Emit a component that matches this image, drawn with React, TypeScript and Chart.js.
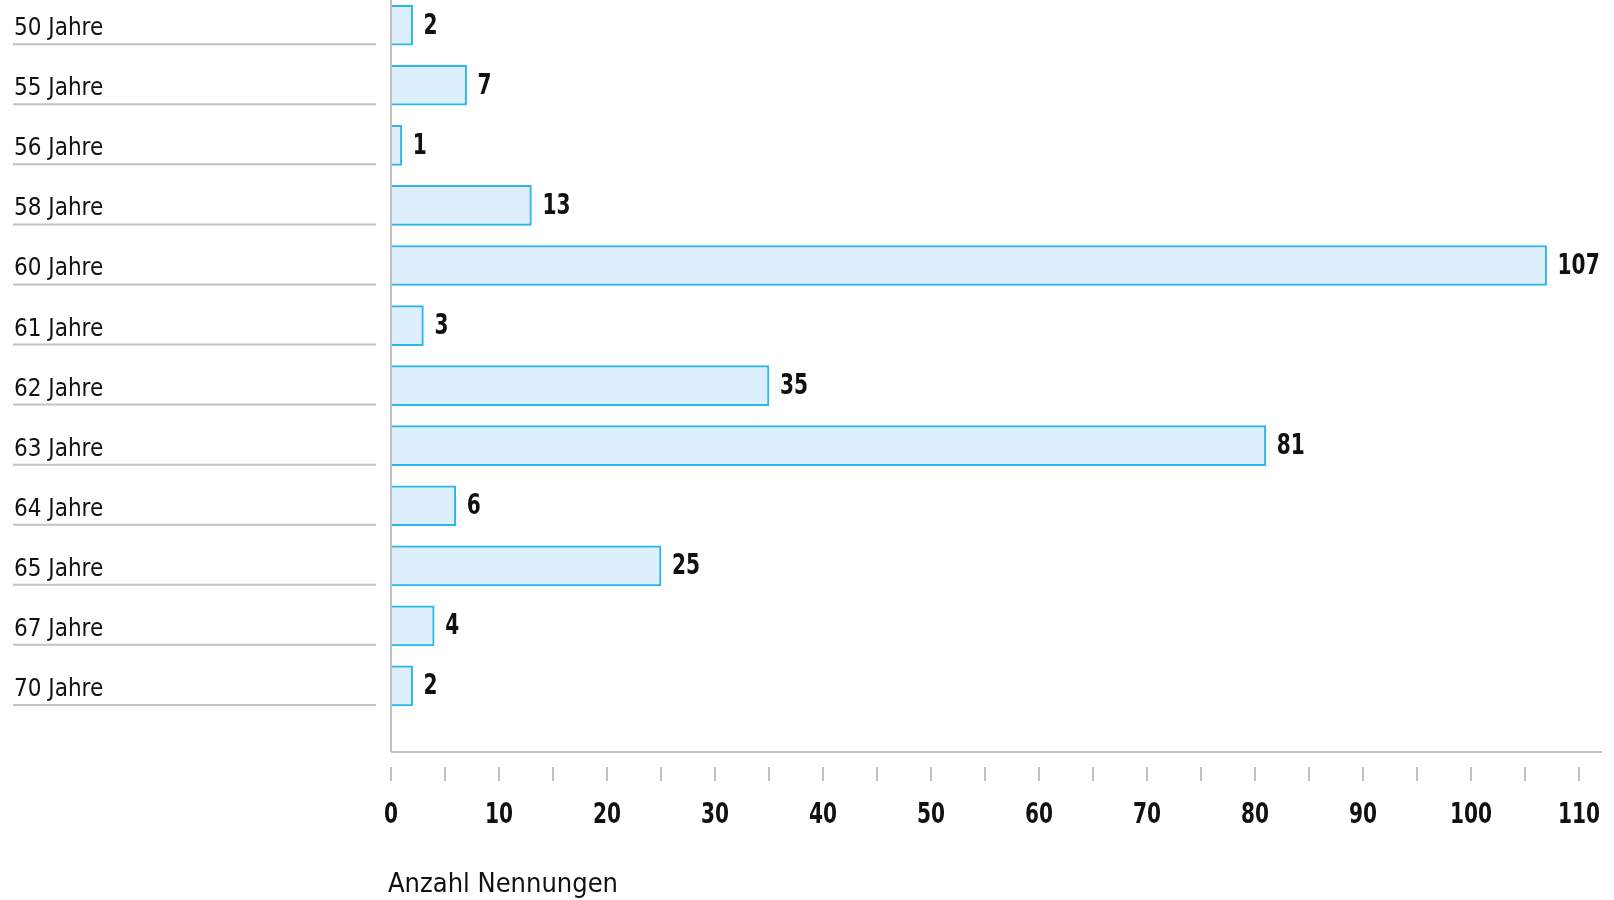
import React, { useEffect, useRef } from "react";
import { Chart, registerables } from "chart.js";

Chart.register(...registerables);

const categories = [
  "50 Jahre", "55 Jahre", "56 Jahre", "58 Jahre", "60 Jahre", "61 Jahre",
  "62 Jahre", "63 Jahre", "64 Jahre", "65 Jahre", "67 Jahre", "70 Jahre",
];
const counts = [2, 7, 1, 13, 107, 3, 35, 81, 6, 25, 4, 2];
const xTickLabels = [0, 10, 20, 30, 40, 50, 60, 70, 80, 90, 100, 110];
const xMinorStep = 5;
const axisTitle = "Anzahl Nennungen";

const LABEL_FONT = "24px 'DejaVu Sans Condensed', sans-serif";
const BOLD_FONT = "bold 28px 'DejaVu Sans Condensed', sans-serif";
const TITLE_FONT = "27px 'DejaVu Sans Condensed', sans-serif";
const GREY = "#c2c2c2";
const TEXT = "#111111";
const NARROW = 0.8;

function narrowText(ctx: any, text: string, x: number, y: number) {
  ctx.save();
  ctx.translate(x, y);
  ctx.scale(NARROW, 1);
  ctx.fillText(text, 0, 0);
  ctx.restore();
}

const overlay = {
  id: "overlay",
  afterDatasetsDraw(chart: any) {
    const ctx = chart.ctx;
    const xs = chart.scales.x;
    const ys = chart.scales.y;
    const area = chart.chartArea;
    const x0 = xs.getPixelForValue(0);
    ctx.save();
    ctx.strokeStyle = GREY;
    ctx.lineWidth = 2;
    ctx.beginPath();
    ctx.moveTo(x0, area.top);
    ctx.lineTo(x0, area.bottom);
    ctx.moveTo(x0, area.bottom);
    ctx.lineTo(chart.width - 12, area.bottom);
    ctx.stroke();
    const maxTick = xTickLabels[xTickLabels.length - 1];
    ctx.beginPath();
    for (let v = 0; v <= maxTick; v += xMinorStep) {
      const px = Math.round(xs.getPixelForValue(v));
      ctx.moveTo(px, area.bottom + 15);
      ctx.lineTo(px, area.bottom + 29);
    }
    ctx.stroke();
    ctx.fillStyle = TEXT;
    ctx.font = BOLD_FONT;
    ctx.textAlign = "center";
    ctx.textBaseline = "middle";
    xTickLabels.forEach((v) => {
      narrowText(ctx, String(v), xs.getPixelForValue(v), area.bottom + 64);
    });
    ctx.font = TITLE_FONT;
    ctx.textAlign = "left";
    ctx.textBaseline = "alphabetic";
    ctx.fillText(axisTitle, x0 - 3, area.bottom + 140);
    categories.forEach((c, i) => {
      const cy = ys.getPixelForValue(i);
      ctx.font = LABEL_FONT;
      ctx.fillStyle = TEXT;
      ctx.textAlign = "left";
      ctx.textBaseline = "alphabetic";
      ctx.fillText(c, 14, cy + 10);
      ctx.strokeStyle = GREY;
      ctx.lineWidth = 2;
      ctx.beginPath();
      ctx.moveTo(13, cy + 19);
      ctx.lineTo(376, cy + 19);
      ctx.stroke();
    });
    ctx.font = BOLD_FONT;
    ctx.fillStyle = TEXT;
    ctx.textAlign = "left";
    ctx.textBaseline = "middle";
    counts.forEach((v, i) => {
      const cy = ys.getPixelForValue(i);
      narrowText(ctx, String(v), xs.getPixelForValue(v) + 11, cy + 1);
    });
    ctx.restore();
  },
};

export default function App() {
  const ref = useRef<HTMLCanvasElement | null>(null);
  useEffect(() => {
    if (!ref.current) return;
    const chart = new Chart(ref.current, {
      type: "bar",
      data: {
        datasets: [
          {
            data: counts.map((v, i) => ({ x: v, y: i })),
            backgroundColor: "#ddeffc",
            borderColor: "#29b6ef",
            borderWidth: 2,
            barThickness: 40,
          },
        ],
      },
      options: {
        indexAxis: "y",
        responsive: false,
        animation: false,
        layout: { padding: { left: 391, right: 35, top: 0, bottom: 148 } },
        plugins: { legend: { display: false }, tooltip: { enabled: false } },
        scales: {
          x: { type: "linear", min: 0, max: 110, display: false },
          y: {
            type: "linear",
            min: -0.42,
            max: 12.1,
            reverse: true,
            offset: false,
            grid: { offset: false },
            display: false,
          },
        },
      },
      plugins: [overlay],
    } as any);
    return () => chart.destroy();
  }, []);
  return (
    <div style={{ position: "fixed", left: 0, top: 0, width: 1614, height: 900, background: "#fff" }}>
      <canvas ref={ref} width={1614} height={900} />
    </div>
  );
}
